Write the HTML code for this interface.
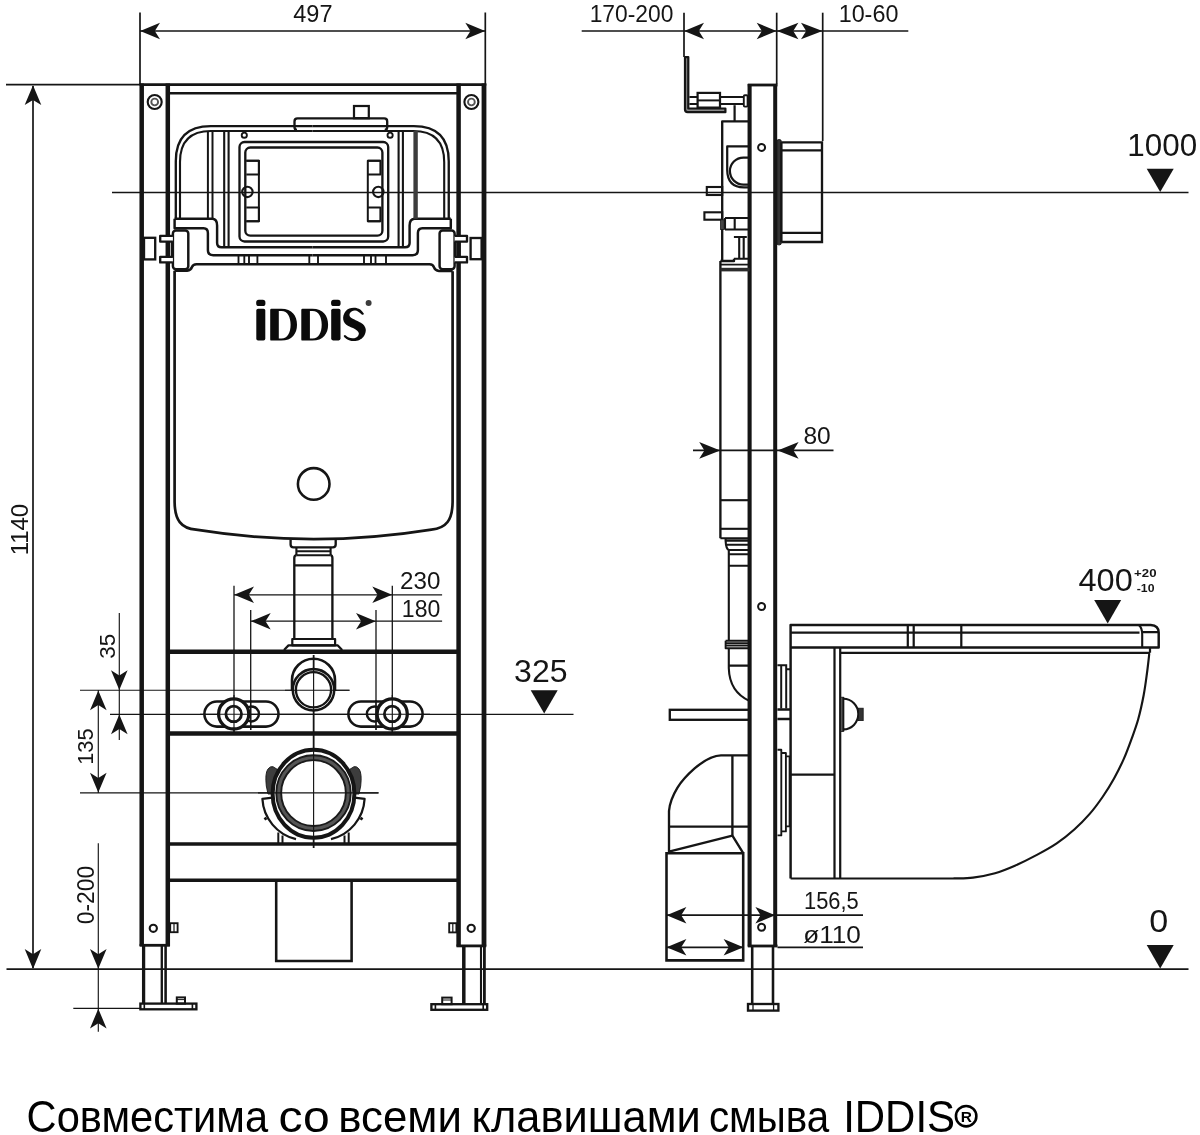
<!DOCTYPE html>
<html><head><meta charset="utf-8"><title>IDDIS</title>
<style>
html,body{margin:0;padding:0;background:#fff;}
svg{display:block;will-change:transform;}
text{font-family:"Liberation Sans",sans-serif;fill:#151515;}
</style></head>
<body>
<svg width="1200" height="1135" viewBox="0 0 1200 1135">
<rect x="0" y="0" width="1200" height="1135" fill="#ffffff"/>
<g>
<line x1="112.00" y1="192.50" x2="1188.50" y2="192.50" stroke="#151515" stroke-width="1.7" stroke-linecap="butt"/>
<line x1="110.00" y1="714.30" x2="573.50" y2="714.30" stroke="#151515" stroke-width="1.3" stroke-linecap="butt"/>
<line x1="6.50" y1="969.20" x2="1188.50" y2="969.20" stroke="#151515" stroke-width="1.7" stroke-linecap="butt"/>
<line x1="6.00" y1="84.60" x2="141.00" y2="84.60" stroke="#151515" stroke-width="1.7" stroke-linecap="butt"/>
<line x1="140.00" y1="12.50" x2="140.00" y2="85.00" stroke="#151515" stroke-width="1.7" stroke-linecap="butt"/>
<line x1="485.30" y1="12.50" x2="485.30" y2="85.00" stroke="#151515" stroke-width="1.7" stroke-linecap="butt"/>
<line x1="140.00" y1="31.00" x2="485.30" y2="31.00" stroke="#151515" stroke-width="1.7" stroke-linecap="butt"/>
<polygon points="140.20,31.00 160.00,39.30 154.80,31.00 160.00,22.70" fill="#151515"/>
<polygon points="485.10,31.00 465.30,22.70 470.50,31.00 465.30,39.30" fill="#151515"/>
<text x="293.30" y="22.30" font-size="23.6" text-anchor="start" font-weight="normal" textLength="39.24" lengthAdjust="spacingAndGlyphs">497</text>
<line x1="33.00" y1="86.00" x2="33.00" y2="968.00" stroke="#151515" stroke-width="1.7" stroke-linecap="butt"/>
<polygon points="33.00,85.30 24.70,105.10 33.00,99.90 41.30,105.10" fill="#151515"/>
<polygon points="33.00,968.90 41.30,949.10 33.00,954.30 24.70,949.10" fill="#151515"/>
<text x="27.70" y="555.34" font-size="24.2" text-anchor="start" font-weight="normal" textLength="51.53" lengthAdjust="spacingAndGlyphs" transform="rotate(-90 27.70 555.34)">1140</text>
<line x1="581.70" y1="31.00" x2="908.30" y2="31.00" stroke="#151515" stroke-width="1.7" stroke-linecap="butt"/>
<line x1="684.00" y1="12.70" x2="684.00" y2="57.00" stroke="#151515" stroke-width="1.7" stroke-linecap="butt"/>
<line x1="776.70" y1="12.70" x2="776.70" y2="84.00" stroke="#151515" stroke-width="1.7" stroke-linecap="butt"/>
<line x1="822.70" y1="12.70" x2="822.70" y2="141.00" stroke="#151515" stroke-width="1.7" stroke-linecap="butt"/>
<polygon points="684.20,31.00 704.00,39.30 698.80,31.00 704.00,22.70" fill="#151515"/>
<polygon points="776.50,31.00 756.70,22.70 761.90,31.00 756.70,39.30" fill="#151515"/>
<polygon points="776.90,31.00 798.40,39.30 793.20,31.00 798.40,22.70" fill="#151515"/>
<polygon points="822.50,31.00 801.00,22.70 806.20,31.00 801.00,39.30" fill="#151515"/>
<text x="589.67" y="22.30" font-size="24.2" text-anchor="start" font-weight="normal" textLength="83.71" lengthAdjust="spacingAndGlyphs">170-200</text>
<text x="838.65" y="22.30" font-size="24.2" text-anchor="start" font-weight="normal" textLength="59.74" lengthAdjust="spacingAndGlyphs">10-60</text>
<line x1="693.00" y1="450.40" x2="833.50" y2="450.40" stroke="#151515" stroke-width="1.7" stroke-linecap="butt"/>
<polygon points="720.20,450.40 699.20,442.10 704.40,450.40 699.20,458.70" fill="#151515"/>
<polygon points="777.60,450.40 798.60,458.70 793.40,450.40 798.60,442.10" fill="#151515"/>
<text x="803.42" y="444.10" font-size="24.2" text-anchor="start" font-weight="normal" textLength="27.33" lengthAdjust="spacingAndGlyphs">80</text>
<line x1="234.00" y1="585.70" x2="234.00" y2="733.00" stroke="#151515" stroke-width="1.3" stroke-linecap="butt"/>
<line x1="392.30" y1="585.70" x2="392.30" y2="733.00" stroke="#151515" stroke-width="1.3" stroke-linecap="butt"/>
<line x1="234.00" y1="594.80" x2="442.10" y2="594.80" stroke="#151515" stroke-width="1.3" stroke-linecap="butt"/>
<polygon points="234.20,594.80 254.00,603.10 248.80,594.80 254.00,586.50" fill="#151515"/>
<polygon points="392.10,594.80 372.30,586.50 377.50,594.80 372.30,603.10" fill="#151515"/>
<line x1="250.70" y1="610.00" x2="250.70" y2="730.00" stroke="#151515" stroke-width="1.3" stroke-linecap="butt"/>
<line x1="376.00" y1="610.00" x2="376.00" y2="730.00" stroke="#151515" stroke-width="1.3" stroke-linecap="butt"/>
<line x1="250.70" y1="621.20" x2="442.10" y2="621.20" stroke="#151515" stroke-width="1.3" stroke-linecap="butt"/>
<polygon points="250.90,621.20 270.70,629.50 265.50,621.20 270.70,612.90" fill="#151515"/>
<polygon points="375.80,621.20 356.00,612.90 361.20,621.20 356.00,629.50" fill="#151515"/>
<text x="400.00" y="588.70" font-size="23.6" text-anchor="start" font-weight="normal" textLength="40.33" lengthAdjust="spacingAndGlyphs">230</text>
<text x="401.86" y="616.50" font-size="23.6" text-anchor="start" font-weight="normal" textLength="38.49" lengthAdjust="spacingAndGlyphs">180</text>
<line x1="119.30" y1="613.00" x2="119.30" y2="740.00" stroke="#151515" stroke-width="1.15" stroke-linecap="butt"/>
<polygon points="119.30,690.00 127.60,670.20 119.30,675.40 111.00,670.20" fill="#151515"/>
<polygon points="119.30,714.40 111.00,734.20 119.30,729.00 127.60,734.20" fill="#151515"/>
<line x1="80.00" y1="690.20" x2="349.50" y2="690.20" stroke="#151515" stroke-width="1.15" stroke-linecap="butt"/>
<text x="114.80" y="658.81" font-size="22.6" text-anchor="start" font-weight="normal" textLength="24.9" lengthAdjust="spacingAndGlyphs" transform="rotate(-90 114.80 658.81)">35</text>
<line x1="98.30" y1="690.00" x2="98.30" y2="793.00" stroke="#151515" stroke-width="1.15" stroke-linecap="butt"/>
<polygon points="98.30,690.50 90.00,710.30 98.30,705.10 106.60,710.30" fill="#151515"/>
<polygon points="98.30,792.50 106.60,772.70 98.30,777.90 90.00,772.70" fill="#151515"/>
<line x1="80.00" y1="792.80" x2="378.50" y2="792.80" stroke="#151515" stroke-width="1.15" stroke-linecap="butt"/>
<text x="93.30" y="764.79" font-size="22.6" text-anchor="start" font-weight="normal" textLength="36.5" lengthAdjust="spacingAndGlyphs" transform="rotate(-90 93.30 764.79)">135</text>
<line x1="98.30" y1="843.30" x2="98.30" y2="1031.70" stroke="#151515" stroke-width="1.15" stroke-linecap="butt"/>
<polygon points="98.30,968.80 106.60,949.00 98.30,954.20 90.00,949.00" fill="#151515"/>
<polygon points="98.30,1008.70 90.00,1028.50 98.30,1023.30 106.60,1028.50" fill="#151515"/>
<line x1="73.30" y1="1008.40" x2="141.00" y2="1008.40" stroke="#151515" stroke-width="1.15" stroke-linecap="butt"/>
<text x="93.90" y="924.29" font-size="24.5" text-anchor="start" font-weight="normal" textLength="58.63" lengthAdjust="spacingAndGlyphs" transform="rotate(-90 93.90 924.29)">0-200</text>
<line x1="666.40" y1="915.20" x2="863.00" y2="915.20" stroke="#151515" stroke-width="1.7" stroke-linecap="butt"/>
<polygon points="666.60,915.20 686.40,923.50 681.20,915.20 686.40,906.90" fill="#151515"/>
<polygon points="775.20,915.20 755.40,906.90 760.60,915.20 755.40,923.50" fill="#151515"/>
<line x1="666.40" y1="947.30" x2="743.60" y2="947.30" stroke="#151515" stroke-width="1.7" stroke-linecap="butt"/>
<line x1="777.50" y1="947.30" x2="863.00" y2="947.30" stroke="#151515" stroke-width="1.7" stroke-linecap="butt"/>
<polygon points="666.60,947.30 686.40,955.60 681.20,947.30 686.40,939.00" fill="#151515"/>
<polygon points="743.40,947.30 723.60,939.00 728.80,947.30 723.60,955.60" fill="#151515"/>
<text x="804.01" y="909.20" font-size="23.8" text-anchor="start" font-weight="normal" textLength="54.71" lengthAdjust="spacingAndGlyphs">156,5</text>
<text x="803.20" y="942.70" font-size="23.0" text-anchor="start" font-weight="normal" textLength="57.71" lengthAdjust="spacingAndGlyphs">&#248;110</text>
<text x="1127.33" y="155.70" font-size="31.0" text-anchor="start" font-weight="normal" textLength="69.87" lengthAdjust="spacingAndGlyphs">1000</text>
<polygon points="1146.70,168.70 1173.70,168.70 1160.20,192.00" fill="#151515"/>
<text x="514.07" y="681.90" font-size="31.3" text-anchor="start" font-weight="normal" textLength="53.44" lengthAdjust="spacingAndGlyphs">325</text>
<polygon points="530.70,690.30 557.70,690.30 544.20,713.60" fill="#151515"/>
<text x="1149.15" y="931.60" font-size="31.0" text-anchor="start" font-weight="normal" textLength="18.98" lengthAdjust="spacingAndGlyphs">0</text>
<polygon points="1146.70,945.10 1173.70,945.10 1160.20,968.40" fill="#151515"/>
<text x="1078.51" y="590.60" font-size="31.3" text-anchor="start" font-weight="normal" textLength="54.28" lengthAdjust="spacingAndGlyphs">400</text>
<polygon points="1094.20,600.10 1121.20,600.10 1107.70,623.40" fill="#151515"/>
<text x="1134.10" y="576.80" font-size="11.4" text-anchor="start" font-weight="bold" textLength="22.41" lengthAdjust="spacingAndGlyphs">+20</text>
<text x="1136.78" y="592.00" font-size="11.4" text-anchor="start" font-weight="bold" textLength="17.68" lengthAdjust="spacingAndGlyphs">-10</text>
<line x1="313.60" y1="655.00" x2="313.60" y2="848.00" stroke="#151515" stroke-width="1.7" stroke-linecap="butt"/>
<line x1="141.70" y1="83.50" x2="141.70" y2="946.00" stroke="#151515" stroke-width="4.5" stroke-linecap="butt"/>
<line x1="167.80" y1="83.50" x2="167.80" y2="946.00" stroke="#151515" stroke-width="4.5" stroke-linecap="butt"/>
<line x1="458.60" y1="83.50" x2="458.60" y2="946.50" stroke="#151515" stroke-width="4.5" stroke-linecap="butt"/>
<line x1="484.00" y1="83.50" x2="484.00" y2="946.50" stroke="#151515" stroke-width="4.8" stroke-linecap="butt"/>
<line x1="139.60" y1="945.30" x2="169.90" y2="945.30" stroke="#151515" stroke-width="2.81" stroke-linecap="butt"/>
<line x1="456.50" y1="945.90" x2="486.20" y2="945.90" stroke="#151515" stroke-width="2.81" stroke-linecap="butt"/>
<line x1="139.60" y1="84.60" x2="486.20" y2="84.60" stroke="#151515" stroke-width="2.81" stroke-linecap="butt"/>
<line x1="167.80" y1="93.30" x2="458.60" y2="93.30" stroke="#151515" stroke-width="2.57" stroke-linecap="butt"/>
<circle cx="154.70" cy="102.00" r="7.00" fill="none" stroke="#151515" stroke-width="2.11"/>
<circle cx="154.70" cy="102.00" r="3.40" fill="none" stroke="#555" stroke-width="1.87"/>
<circle cx="471.40" cy="102.00" r="7.00" fill="none" stroke="#151515" stroke-width="2.11"/>
<circle cx="471.40" cy="102.00" r="3.40" fill="none" stroke="#555" stroke-width="1.87"/>
<rect x="144.00" y="237.80" width="11.20" height="21.60" rx="0" fill="none" stroke="#151515" stroke-width="2.34"/>
<rect x="470.60" y="238.00" width="11.00" height="21.20" rx="0" fill="none" stroke="#151515" stroke-width="2.34"/>
<line x1="167.80" y1="651.80" x2="458.60" y2="651.80" stroke="#151515" stroke-width="4.5" stroke-linecap="butt"/>
<line x1="167.80" y1="733.60" x2="458.60" y2="733.60" stroke="#151515" stroke-width="4.5" stroke-linecap="butt"/>
<line x1="167.80" y1="844.00" x2="458.60" y2="844.00" stroke="#151515" stroke-width="3.4" stroke-linecap="butt"/>
<line x1="167.80" y1="880.20" x2="458.60" y2="880.20" stroke="#151515" stroke-width="3.4" stroke-linecap="butt"/>
<path d="M276.2,880 V961 H351.6 V880" fill="none" stroke="#151515" stroke-width="2.57" stroke-linejoin="miter" stroke-linecap="butt"/>
<circle cx="153.30" cy="928.30" r="3.60" fill="none" stroke="#151515" stroke-width="2.11"/>
<circle cx="471.20" cy="928.30" r="3.60" fill="none" stroke="#151515" stroke-width="2.11"/>
<rect x="170.20" y="923.20" width="7.40" height="9.00" rx="0" fill="none" stroke="#151515" stroke-width="1.87"/>
<line x1="174.00" y1="923.20" x2="174.00" y2="932.20" stroke="#151515" stroke-width="1.2" stroke-linecap="butt"/>
<rect x="449.20" y="923.20" width="7.20" height="9.20" rx="0" fill="none" stroke="#151515" stroke-width="1.87"/>
<line x1="452.80" y1="923.20" x2="452.80" y2="932.40" stroke="#151515" stroke-width="1.2" stroke-linecap="butt"/>
<line x1="143.60" y1="946.00" x2="143.60" y2="1003.50" stroke="#151515" stroke-width="3.28" stroke-linecap="butt"/>
<line x1="161.80" y1="946.00" x2="161.80" y2="1003.50" stroke="#151515" stroke-width="2.34" stroke-linecap="butt"/>
<line x1="165.60" y1="946.00" x2="165.60" y2="1003.50" stroke="#151515" stroke-width="2.57" stroke-linecap="butt"/>
<line x1="463.80" y1="946.00" x2="463.80" y2="1004.00" stroke="#151515" stroke-width="3.51" stroke-linecap="butt"/>
<line x1="481.00" y1="946.00" x2="481.00" y2="1004.00" stroke="#151515" stroke-width="2.11" stroke-linecap="butt"/>
<line x1="484.40" y1="946.00" x2="484.40" y2="1004.00" stroke="#151515" stroke-width="2.81" stroke-linecap="butt"/>
<rect x="140.40" y="1003.60" width="56.00" height="5.70" rx="0" fill="none" stroke="#151515" stroke-width="2.34"/>
<line x1="144.30" y1="1003.60" x2="144.30" y2="1009.30" stroke="#151515" stroke-width="1.64" stroke-linecap="butt"/>
<line x1="192.40" y1="1003.60" x2="192.40" y2="1009.30" stroke="#151515" stroke-width="1.64" stroke-linecap="butt"/>
<rect x="176.80" y="997.40" width="8.20" height="6.20" rx="0" fill="none" stroke="#151515" stroke-width="1.99"/>
<line x1="176.80" y1="999.60" x2="185.00" y2="999.60" stroke="#151515" stroke-width="1.0" stroke-linecap="butt"/>
<rect x="431.40" y="1004.20" width="55.80" height="5.60" rx="0" fill="none" stroke="#151515" stroke-width="2.34"/>
<line x1="435.40" y1="1004.20" x2="435.40" y2="1009.80" stroke="#151515" stroke-width="1.64" stroke-linecap="butt"/>
<line x1="483.20" y1="1004.20" x2="483.20" y2="1009.80" stroke="#151515" stroke-width="1.64" stroke-linecap="butt"/>
<rect x="442.20" y="997.60" width="9.40" height="6.60" rx="0" fill="none" stroke="#151515" stroke-width="1.99"/>
<line x1="442.20" y1="1000.00" x2="451.60" y2="1000.00" stroke="#151515" stroke-width="1.0" stroke-linecap="butt"/>
<path d="M174.6,270.8 V502 C174.8,520 181,528.3 196,529.6 Q313.7,548.6 431.4,529.6 C446.4,528.3 452.4,520 452.6,502 V271.2" fill="none" stroke="#151515" stroke-width="2.69" stroke-linejoin="round" stroke-linecap="butt"/>
<circle cx="313.70" cy="483.90" r="15.80" fill="none" stroke="#151515" stroke-width="2.57"/>
<path d="M174.6,270.8 H187 Q191,270 192,267 Q193,264.2 196.5,264.2 H429.5 Q433,264.2 434,267.4 Q435,270.6 439,270.9 H452.6" fill="none" stroke="#151515" stroke-width="2.46" stroke-linejoin="round" stroke-linecap="butt"/>
<path d="M290.6,539.4 V544.5 Q290.6,547.3 293.5,547.3 H332.8 Q335.7,547.3 335.7,544.5 V539.4" fill="none" stroke="#151515" stroke-width="2.34" stroke-linejoin="round" stroke-linecap="butt"/>
<path d="M296.4,547.3 V555.2 M330.6,547.3 V555.2 M296.4,551.2 H330.6 M296.4,555.2 H330.6" fill="none" stroke="#151515" stroke-width="2.11" stroke-linejoin="round" stroke-linecap="butt"/>
<path d="M296.4,555.2 Q294.3,555.6 294.3,558 V639 M330.6,555.2 Q332.4,555.6 332.4,558 V639 M294.3,565.3 H332.4" fill="none" stroke="#151515" stroke-width="2.34" stroke-linejoin="round" stroke-linecap="butt"/>
<path d="M292.3,639 H335.1 V645.4 H292.3 Z" fill="none" stroke="#151515" stroke-width="2.22" stroke-linejoin="round" stroke-linecap="butt"/>
<path d="M284,650 L288.5,645.4 H337.8 L342.2,650" fill="none" stroke="#151515" stroke-width="2.22" stroke-linejoin="round" stroke-linecap="butt"/>
<path d="M175.80,218.8 V161.20 Q175.80,126.2 210.80,126.2 H312.4" fill="none" stroke="#151515" stroke-width="2.34" stroke-linejoin="round" stroke-linecap="butt"/>
<path d="M180.00,218.8 V162.00 Q180.00,131 211.00,131 H312.4" fill="none" stroke="#151515" stroke-width="2.11" stroke-linejoin="round" stroke-linecap="butt"/>
<path d="M174.60,218.8 H212.60 Q217.10,219.4 217.10,225.4 V243 Q217.10,247.3 221.60,247.3 H312.4" fill="none" stroke="#151515" stroke-width="2.46" stroke-linejoin="round" stroke-linecap="butt"/>
<path d="M174.60,218.8 V228.3 H203.60 Q207.90,228.5 207.90,233 V250 Q207.90,255.2 213.20,255.2 H312.4" fill="none" stroke="#151515" stroke-width="2.46" stroke-linejoin="round" stroke-linecap="butt"/>
<rect x="172.90" y="230.40" width="15.40" height="38.80" rx="3" fill="none" stroke="#151515" stroke-width="2.46"/>
<path d="M172.90,235.9 H160.20 V241.6 H172.90" fill="#fff" stroke="#151515" stroke-width="2.34" stroke-linejoin="round" stroke-linecap="butt"/>
<path d="M172.90,256.8 H160.20 V262.4 H172.90" fill="#fff" stroke="#151515" stroke-width="2.34" stroke-linejoin="round" stroke-linecap="butt"/>
<line x1="168.30" y1="241.60" x2="168.30" y2="256.80" stroke="#151515" stroke-width="1.99" stroke-linecap="butt"/>
<line x1="171.70" y1="241.60" x2="171.70" y2="256.80" stroke="#151515" stroke-width="1.99" stroke-linecap="butt"/>
<path d="M448.75,218.8 V161.20 Q448.75,126.2 413.75,126.2 H312.4" fill="none" stroke="#151515" stroke-width="2.34" stroke-linejoin="round" stroke-linecap="butt"/>
<path d="M444.20,218.8 V162.00 Q444.20,131 413.20,131 H312.4" fill="none" stroke="#151515" stroke-width="2.11" stroke-linejoin="round" stroke-linecap="butt"/>
<path d="M450.80,218.8 H414.40 Q409.60,219.4 409.60,225.4 V243 Q409.60,247.3 405.00,247.3 H312.4" fill="none" stroke="#151515" stroke-width="2.46" stroke-linejoin="round" stroke-linecap="butt"/>
<path d="M450.80,218.8 V228.3 H422.40 Q417.90,228.5 417.90,233 V250 Q417.90,255.2 412.60,255.2 H312.4" fill="none" stroke="#151515" stroke-width="2.46" stroke-linejoin="round" stroke-linecap="butt"/>
<rect x="439.60" y="230.40" width="15.00" height="38.80" rx="3" fill="none" stroke="#151515" stroke-width="2.46"/>
<path d="M454.60,235.9 H467.00 V241.6 H454.60" fill="#fff" stroke="#151515" stroke-width="2.34" stroke-linejoin="round" stroke-linecap="butt"/>
<path d="M454.60,256.8 H467.00 V262.4 H454.60" fill="#fff" stroke="#151515" stroke-width="2.34" stroke-linejoin="round" stroke-linecap="butt"/>
<line x1="455.60" y1="241.60" x2="455.60" y2="256.80" stroke="#151515" stroke-width="1.99" stroke-linecap="butt"/>
<line x1="459.60" y1="241.60" x2="459.60" y2="256.80" stroke="#151515" stroke-width="1.99" stroke-linecap="butt"/>
<line x1="207.90" y1="131.00" x2="207.90" y2="218.80" stroke="#151515" stroke-width="1.99" stroke-linecap="butt"/>
<line x1="212.50" y1="131.00" x2="212.50" y2="218.80" stroke="#151515" stroke-width="1.99" stroke-linecap="butt"/>
<line x1="224.20" y1="131.00" x2="224.20" y2="247.30" stroke="#151515" stroke-width="2.11" stroke-linecap="butt"/>
<line x1="228.60" y1="131.00" x2="228.60" y2="247.30" stroke="#151515" stroke-width="2.11" stroke-linecap="butt"/>
<line x1="398.60" y1="131.00" x2="398.60" y2="247.30" stroke="#151515" stroke-width="2.11" stroke-linecap="butt"/>
<line x1="402.90" y1="131.00" x2="402.90" y2="247.30" stroke="#151515" stroke-width="2.11" stroke-linecap="butt"/>
<line x1="415.60" y1="131.00" x2="415.60" y2="218.80" stroke="#3c3c3c" stroke-width="4.4" stroke-linecap="butt"/>
<path d="M297,130 Q294.5,130 294.5,127 V121.4 Q294.5,118.4 297.5,118.4 H384.2 Q387.2,118.4 387.2,121.4 V127 Q387.2,130 384.7,130" fill="none" stroke="#151515" stroke-width="2.34" stroke-linejoin="round" stroke-linecap="butt"/>
<rect x="354.00" y="106.00" width="14.80" height="12.20" rx="0" fill="none" stroke="#151515" stroke-width="2.22"/>
<circle cx="244.30" cy="135.20" r="2.60" fill="none" stroke="#151515" stroke-width="1.87"/>
<circle cx="390.10" cy="135.20" r="2.60" fill="none" stroke="#151515" stroke-width="1.87"/>
<rect x="239.50" y="142.00" width="148.70" height="99.50" rx="5" fill="none" stroke="#151515" stroke-width="2.34"/>
<rect x="245.30" y="147.50" width="137.10" height="88.20" rx="5" fill="none" stroke="#151515" stroke-width="2.34"/>
<path d="M246.3,160.7 H258.9 V174.6 H246.3 M246.3,207.6 H258.9 V221.2 H246.3" fill="none" stroke="#151515" stroke-width="1.99" stroke-linejoin="round" stroke-linecap="butt"/>
<path d="M246.3,160.7 H258.9 V221.2 H246.3" fill="none" stroke="#151515" stroke-width="1.99" stroke-linejoin="round" stroke-linecap="butt"/>
<path d="M367.8,160.7 H380.4 V174.6 H367.8 M367.8,207.6 H380.4 V221.2 H367.8" fill="none" stroke="#151515" stroke-width="1.99" stroke-linejoin="round" stroke-linecap="butt"/>
<path d="M380.4,160.7 H367.8 V221.2 H380.4" fill="none" stroke="#151515" stroke-width="1.99" stroke-linejoin="round" stroke-linecap="butt"/>
<circle cx="247.40" cy="191.90" r="5.20" fill="none" stroke="#151515" stroke-width="2.11"/>
<circle cx="378.30" cy="191.90" r="5.20" fill="none" stroke="#151515" stroke-width="2.11"/>
<line x1="238.50" y1="255.20" x2="238.50" y2="264.20" stroke="#151515" stroke-width="1.87" stroke-linecap="butt"/>
<line x1="244.30" y1="255.20" x2="244.30" y2="264.20" stroke="#151515" stroke-width="1.87" stroke-linecap="butt"/>
<line x1="249.00" y1="255.20" x2="249.00" y2="264.20" stroke="#151515" stroke-width="1.87" stroke-linecap="butt"/>
<line x1="257.40" y1="255.20" x2="257.40" y2="264.20" stroke="#151515" stroke-width="1.87" stroke-linecap="butt"/>
<line x1="309.30" y1="255.20" x2="309.30" y2="264.20" stroke="#151515" stroke-width="1.87" stroke-linecap="butt"/>
<line x1="318.00" y1="255.20" x2="318.00" y2="264.20" stroke="#151515" stroke-width="1.87" stroke-linecap="butt"/>
<line x1="364.00" y1="255.20" x2="364.00" y2="264.20" stroke="#151515" stroke-width="1.87" stroke-linecap="butt"/>
<line x1="371.00" y1="255.20" x2="371.00" y2="264.20" stroke="#151515" stroke-width="1.87" stroke-linecap="butt"/>
<line x1="375.50" y1="255.20" x2="375.50" y2="264.20" stroke="#151515" stroke-width="1.87" stroke-linecap="butt"/>
<line x1="386.00" y1="255.20" x2="386.00" y2="264.20" stroke="#151515" stroke-width="1.87" stroke-linecap="butt"/>
<path d="M292.0,691 V680.2 A21.5,21.5 0 0 1 335.0,680.2 V691" fill="none" stroke="#151515" stroke-width="2.57" stroke-linejoin="round" stroke-linecap="butt"/>
<circle cx="313.50" cy="689.80" r="20.70" fill="#fff" stroke="#151515" stroke-width="2.57"/>
<circle cx="313.50" cy="689.80" r="17.60" fill="none" stroke="#151515" stroke-width="2.34"/>
<path d="M216.95,701.50 H265.95 A12.55,12.55 0 0 1 265.95,726.60 H216.95 A12.55,12.55 0 0 1 216.95,701.50 Z" fill="none" stroke="#151515" stroke-width="2.57" stroke-linejoin="round" stroke-linecap="butt"/>
<path d="M360.95,701.50 H410.05 A12.55,12.55 0 0 1 410.05,726.60 H360.95 A12.55,12.55 0 0 1 360.95,701.50 Z" fill="none" stroke="#151515" stroke-width="2.57" stroke-linejoin="round" stroke-linecap="butt"/>
<circle cx="251.40" cy="713.90" r="7.50" fill="none" stroke="#151515" stroke-width="2.46"/>
<circle cx="374.40" cy="713.90" r="7.50" fill="none" stroke="#151515" stroke-width="2.46"/>
<circle cx="233.70" cy="713.90" r="15.10" fill="#fff" stroke="#151515" stroke-width="3.28"/>
<circle cx="233.70" cy="713.90" r="7.80" fill="none" stroke="#151515" stroke-width="2.81"/>
<circle cx="392.20" cy="713.90" r="15.10" fill="#fff" stroke="#151515" stroke-width="3.28"/>
<circle cx="392.20" cy="713.90" r="7.80" fill="none" stroke="#151515" stroke-width="2.81"/>
<path d="M268.00,794 L266.30,786 Q264.90,773.5 267.80,769.2 Q270.30,765.9 273.00,766.7 L277.50,769.5 L282.00,794 Z" fill="#3d3d3d" stroke="#151515" stroke-width="0.9"/>
<path d="M272.50,797.6 L262.40,798.9 A43.8,43.8 0 0 0 296.00,839.2" fill="none" stroke="#151515" stroke-width="2.22" stroke-linejoin="round" stroke-linecap="butt"/>
<path d="M266.60,818.0 l-2.20,1.4" fill="none" stroke="#151515" stroke-width="2.81" stroke-linejoin="round" stroke-linecap="butt"/>
<line x1="278.30" y1="832.50" x2="278.30" y2="843.00" stroke="#151515" stroke-width="1.99" stroke-linecap="butt"/>
<line x1="282.50" y1="835.50" x2="282.50" y2="843.00" stroke="#151515" stroke-width="1.99" stroke-linecap="butt"/>
<path d="M359.00,794 L360.70,786 Q362.10,773.5 359.20,769.2 Q356.70,765.9 354.00,766.7 L349.50,769.5 L345.00,794 Z" fill="#3d3d3d" stroke="#151515" stroke-width="0.9"/>
<path d="M354.50,797.6 L364.60,798.9 A43.8,43.8 0 0 1 331.00,839.2" fill="none" stroke="#151515" stroke-width="2.22" stroke-linejoin="round" stroke-linecap="butt"/>
<path d="M360.40,818.0 l2.20,1.4" fill="none" stroke="#151515" stroke-width="2.81" stroke-linejoin="round" stroke-linecap="butt"/>
<line x1="348.70" y1="832.50" x2="348.70" y2="843.00" stroke="#151515" stroke-width="1.99" stroke-linecap="butt"/>
<line x1="344.50" y1="835.50" x2="344.50" y2="843.00" stroke="#151515" stroke-width="1.99" stroke-linecap="butt"/>
<ellipse cx="313.5" cy="793.8" rx="40.9" ry="44.0" fill="#fff" stroke="#151515" stroke-width="4.0"/>
<ellipse cx="313.5" cy="793.1" rx="34.8" ry="35.4" fill="none" stroke="#1a1a1a" stroke-width="6.8"/>
<ellipse cx="313.5" cy="793.1" rx="34.8" ry="35.4" fill="none" stroke="#555" stroke-width="3.0"/>
<line x1="313.60" y1="655.00" x2="313.60" y2="848.00" stroke="#151515" stroke-width="1.15" stroke-linecap="butt"/>
<line x1="258.00" y1="792.80" x2="378.50" y2="792.80" stroke="#151515" stroke-width="1.15" stroke-linecap="butt"/>
<line x1="285.00" y1="690.20" x2="349.50" y2="690.20" stroke="#151515" stroke-width="1.15" stroke-linecap="butt"/>
<line x1="200.00" y1="714.20" x2="430.00" y2="714.20" stroke="#151515" stroke-width="1.15" stroke-linecap="butt"/>
<line x1="234.00" y1="695.00" x2="234.00" y2="733.00" stroke="#151515" stroke-width="1.15" stroke-linecap="butt"/>
<line x1="392.30" y1="695.00" x2="392.30" y2="733.00" stroke="#151515" stroke-width="1.15" stroke-linecap="butt"/>
<line x1="250.70" y1="700.00" x2="250.70" y2="730.00" stroke="#151515" stroke-width="1.15" stroke-linecap="butt"/>
<line x1="376.00" y1="700.00" x2="376.00" y2="730.00" stroke="#151515" stroke-width="1.15" stroke-linecap="butt"/>
<line x1="749.60" y1="84.00" x2="749.60" y2="946.60" stroke="#151515" stroke-width="4.1" stroke-linecap="butt"/>
<line x1="775.20" y1="84.00" x2="775.20" y2="946.60" stroke="#151515" stroke-width="4.0" stroke-linecap="butt"/>
<line x1="747.80" y1="85.00" x2="777.50" y2="85.00" stroke="#151515" stroke-width="2.81" stroke-linecap="butt"/>
<line x1="747.80" y1="946.00" x2="777.50" y2="946.00" stroke="#151515" stroke-width="2.81" stroke-linecap="butt"/>
<circle cx="761.60" cy="147.40" r="3.50" fill="none" stroke="#151515" stroke-width="1.99"/>
<circle cx="761.60" cy="606.50" r="3.50" fill="none" stroke="#151515" stroke-width="1.99"/>
<circle cx="761.60" cy="927.20" r="3.50" fill="none" stroke="#151515" stroke-width="1.99"/>
<line x1="752.20" y1="946.00" x2="752.20" y2="1004.00" stroke="#151515" stroke-width="2.57" stroke-linecap="butt"/>
<line x1="773.00" y1="946.00" x2="773.00" y2="1004.00" stroke="#151515" stroke-width="2.57" stroke-linecap="butt"/>
<rect x="748.00" y="1004.00" width="30.40" height="6.60" rx="0" fill="none" stroke="#151515" stroke-width="2.34"/>
<line x1="753.00" y1="1004.00" x2="753.00" y2="1010.60" stroke="#151515" stroke-width="1.3" stroke-linecap="butt"/>
<line x1="773.60" y1="1004.00" x2="773.60" y2="1010.60" stroke="#151515" stroke-width="1.3" stroke-linecap="butt"/>
<path d="M685.0,57.2 H688.3 V108.5 H725.4 V112.2 H687.6 Q685.0,112.2 685.0,109.6 Z" fill="#8a8a8a" stroke="#151515" stroke-width="2.22" stroke-linejoin="round" stroke-linecap="butt"/>
<path d="M689.4,97.0 H697.6 M720,97.0 H743.6 M689.4,104.0 H697.6 M720,104.0 H743.6" fill="none" stroke="#151515" stroke-width="2.11" stroke-linejoin="round" stroke-linecap="butt"/>
<rect x="697.60" y="92.90" width="22.40" height="14.70" rx="0" fill="#fff" stroke="#151515" stroke-width="2.22"/>
<line x1="697.60" y1="100.40" x2="720.00" y2="100.40" stroke="#151515" stroke-width="1.99" stroke-linecap="butt"/>
<rect x="743.80" y="95.20" width="3.80" height="11.40" rx="1" fill="none" stroke="#151515" stroke-width="1.87"/>
<path d="M734.6,105.2 V121.3" fill="none" stroke="#151515" stroke-width="2.22" stroke-linejoin="round" stroke-linecap="butt"/>
<path d="M749.6,121.3 H722.2 V261" fill="none" stroke="#151515" stroke-width="2.34" stroke-linejoin="round" stroke-linecap="butt"/>
<path d="M749.6,146.4 H727.2 V170 Q727.4,187.4 744,187.4 H749.6" fill="none" stroke="#151515" stroke-width="2.22" stroke-linejoin="round" stroke-linecap="butt"/>
<path d="M749.6,157.6 H743.4 A13.5,13.5 0 0 0 743.4,184.6 H749.6" fill="none" stroke="#151515" stroke-width="2.22" stroke-linejoin="round" stroke-linecap="butt"/>
<rect x="706.80" y="187.00" width="15.40" height="8.00" rx="0" fill="none" stroke="#151515" stroke-width="2.11"/>
<rect x="704.40" y="212.30" width="17.80" height="7.40" rx="0" fill="none" stroke="#151515" stroke-width="2.11"/>
<path d="M725,218 H749.6 M725,229.5 H749.6 M725,218 V229.5 M734.7,218 V229.5" fill="none" stroke="#151515" stroke-width="2.11" stroke-linejoin="round" stroke-linecap="butt"/>
<rect x="720.60" y="219.80" width="3.60" height="9.70" rx="0" fill="#444" stroke="#151515" stroke-width="0.8"/>
<path d="M733.9,237 H746.8 M739.2,237 V258.7 M743.7,237 V258.7 M733.9,258.7 H749.6" fill="none" stroke="#151515" stroke-width="2.11" stroke-linejoin="round" stroke-linecap="butt"/>
<path d="M722.2,261 H734 V258.7 M720.4,261 H722.2 M720.4,261 V538.2" fill="none" stroke="#151515" stroke-width="2.34" stroke-linejoin="round" stroke-linecap="butt"/>
<line x1="720.40" y1="264.60" x2="749.60" y2="264.60" stroke="#151515" stroke-width="1.75" stroke-linecap="butt"/>
<line x1="720.40" y1="269.60" x2="749.60" y2="269.60" stroke="#2c2c2c" stroke-width="3.6" stroke-linecap="butt"/>
<line x1="720.40" y1="500.20" x2="749.60" y2="500.20" stroke="#151515" stroke-width="2.11" stroke-linecap="butt"/>
<line x1="720.40" y1="528.80" x2="749.60" y2="528.80" stroke="#151515" stroke-width="2.11" stroke-linecap="butt"/>
<path d="M720.4,538.2 H749.6 M725.6,538.2 V541 M725.6,540.6 H749.6 M725.6,540.6 Q726,549 728.8,550 M727,544.8 H749.6 M728.8,550 H749.6 M728.8,554.2 H749.6 M728.8,550 V640.8 M728.8,565.8 H749.6" fill="none" stroke="#151515" stroke-width="2.11" stroke-linejoin="round" stroke-linecap="butt"/>
<path d="M725.6,640.8 H749.6 M725.6,640.8 V648.2 H749.6 M725.6,643.3 H749.6 M725.6,645.6 H749.6" fill="none" stroke="#151515" stroke-width="1.87" stroke-linejoin="round" stroke-linecap="butt"/>
<path d="M728.8,648.2 V668.3 M728.8,665.6 H749.6 M728.8,668.3 Q729.5,692 749.6,701" fill="none" stroke="#151515" stroke-width="2.11" stroke-linejoin="round" stroke-linecap="butt"/>
<rect x="669.80" y="709.80" width="79.80" height="10.00" rx="0" fill="none" stroke="#151515" stroke-width="2.34"/>
<path d="M749.6,755.4 H721 C712,755.6 704,760.5 694.6,768.4 C686.5,775.5 680.6,782.6 677.5,787.6 C673,795 669.6,803 669.0,811 V851.6 L732.4,835.6 L743.2,853.2" fill="none" stroke="#151515" stroke-width="2.34" stroke-linejoin="round" stroke-linecap="butt"/>
<path d="M732.4,756 V835.6 M669.0,826.6 H749.6" fill="none" stroke="#151515" stroke-width="2.34" stroke-linejoin="round" stroke-linecap="butt"/>
<path d="M666.5,853.2 H743.2 V960.4 H666.5 Z" fill="none" stroke="#151515" stroke-width="2.57" stroke-linejoin="miter" stroke-linecap="butt"/>
<rect x="776.90" y="139.60" width="4.30" height="105.20" rx="1.6" fill="#333" stroke="#151515" stroke-width="1.0"/>
<path d="M781.3,142.3 H822 V242 H781.3 M781.3,150.4 H822 M781.3,232.9 H822 M781.4,142.3 V242" fill="none" stroke="#151515" stroke-width="2.34" stroke-linejoin="miter" stroke-linecap="butt"/>
<path d="M777.4,665.2 H786.2 V669.3 H790.4 M781.2,665.2 V708.6 M786.2,669.3 V708.6" fill="none" stroke="#151515" stroke-width="1.99" stroke-linejoin="miter" stroke-linecap="butt"/>
<path d="M777.4,709.4 H790.6 M777.4,719.0 H790.6" fill="none" stroke="#151515" stroke-width="2.46" stroke-linejoin="round" stroke-linecap="butt"/>
<path d="M777.5,749.8 H781.3 V835.4 H777.5 M781.3,753 H785.9 V831.4 H781.3 M785.9,756.4 H789.6 V826.4 H785.9" fill="none" stroke="#151515" stroke-width="1.87" stroke-linejoin="round" stroke-linecap="butt"/>
<path d="M790.6,878.5 V624.9 H1150.7 Q1158.7,625.4 1158.7,632.5 V647.4 H790.6" fill="none" stroke="#151515" stroke-width="2.46" stroke-linejoin="round" stroke-linecap="butt"/>
<path d="M790.6,632.6 H1139.5 M1142.4,632.2 H1158.7" fill="none" stroke="#151515" stroke-width="2.22" stroke-linejoin="round" stroke-linecap="butt"/>
<path d="M1138.7,624.9 Q1142.2,627.5 1142.2,634.7 V647.4" fill="none" stroke="#151515" stroke-width="2.11" stroke-linejoin="round" stroke-linecap="butt"/>
<path d="M840.2,652.8 H1150 M1150,647.4 V652.8" fill="none" stroke="#151515" stroke-width="2.22" stroke-linejoin="round" stroke-linecap="butt"/>
<path d="M907.8,624.9 V647.4 M913.7,624.9 V647.4 M961.3,624.9 V647.4" fill="none" stroke="#151515" stroke-width="2.22" stroke-linejoin="round" stroke-linecap="butt"/>
<path d="M834.5,647.4 V878.5 M840.2,647.4 V878.5" fill="none" stroke="#151515" stroke-width="2.22" stroke-linejoin="round" stroke-linecap="butt"/>
<line x1="790.60" y1="774.70" x2="834.30" y2="774.70" stroke="#151515" stroke-width="2.22" stroke-linecap="butt"/>
<path d="M790.60,878.50 C815.50,878.50 912.60,878.52 940.00,878.50 C967.40,878.48 949.50,878.55 955.00,878.40 C960.50,878.25 966.33,878.47 973.00,877.60 C979.67,876.73 988.02,875.18 995.00,873.20 C1001.98,871.22 1007.92,868.75 1014.90,865.70 C1021.88,862.65 1029.93,858.62 1036.90,854.90 C1043.87,851.18 1050.47,847.63 1056.70,843.40 C1062.93,839.17 1068.80,834.42 1074.30,829.50 C1079.80,824.58 1084.93,819.40 1089.70,813.90 C1094.47,808.40 1098.87,802.37 1102.90,796.50 C1106.93,790.63 1110.42,784.97 1113.90,778.70 C1117.38,772.43 1120.87,765.50 1123.80,758.90 C1126.73,752.30 1129.10,745.70 1131.50,739.10 C1133.90,732.50 1136.17,726.65 1138.20,719.30 C1140.23,711.95 1142.23,702.72 1143.70,695.00 C1145.17,687.28 1146.07,679.93 1147.00,673.00 C1147.93,666.07 1148.92,656.67 1149.30,653.40" fill="none" stroke="#151515" stroke-width="2.16" stroke-linejoin="round" stroke-linecap="butt"/>
<rect x="840.60" y="697.20" width="2.80" height="34.20" rx="0" fill="#555" stroke="#151515" stroke-width="0.8"/>
<path d="M843.4,698.8 A14.9,15.3 0 0 1 843.4,729.4" fill="none" stroke="#151515" stroke-width="2.11" stroke-linejoin="round" stroke-linecap="butt"/>
<path d="M843.4,697.2 V731.4" fill="none" stroke="#151515" stroke-width="1.87" stroke-linejoin="round" stroke-linecap="butt"/>
<rect x="858.60" y="708.20" width="4.60" height="12.40" rx="0" fill="#333" stroke="#151515" stroke-width="0.8"/>
<g fill="#0b0b0b" stroke="none">
<rect x="256.3" y="308.8" width="9.0" height="31.8" rx="1.8"/>
<rect x="256.2" y="299.8" width="9.2" height="6.3" rx="2.6"/>
<rect x="331.2" y="308.8" width="9.3" height="31.6" rx="1.8"/>
<rect x="331.1" y="299.8" width="9.5" height="6.3" rx="2.6"/>
<path fill-rule="evenodd" d="M271.4,308.8 H281.2 C292.2,308.8 297.0,316 297.0,324.7 C297.0,333.4 292.2,340.6 281.2,340.6 H271.4 Q270.2,340.6 270.2,339.4 V310 Q270.2,308.8 271.4,308.8 Z M278.8,310.9 V338.5 H281.5 C287.59999999999997,338.5 290.59999999999997,332.4 290.59999999999997,324.7 C290.59999999999997,317 287.59999999999997,310.9 281.5,310.9 Z"/>
<path fill-rule="evenodd" d="M302.5,308.8 H312.3 C323.3,308.8 328.1,316 328.1,324.7 C328.1,333.4 323.3,340.6 312.3,340.6 H302.5 Q301.3,340.6 301.3,339.4 V310 Q301.3,308.8 302.5,308.8 Z M309.90000000000003,310.9 V338.5 H312.6 C318.7,338.5 321.7,332.4 321.7,324.7 C321.7,317 318.7,310.9 312.6,310.9 Z"/>
<path d="M363.85,313.78 C363.76,313.16 362.84,311.98 362.00,311.14 C361.16,310.30 360.15,309.33 358.83,308.76 C357.51,308.19 355.66,307.75 354.07,307.71 C352.48,307.67 350.72,307.93 349.31,308.50 C347.90,309.07 346.58,310.00 345.61,311.14 C344.64,312.28 343.90,313.96 343.50,315.37 C343.10,316.78 343.01,318.28 343.23,319.60 C343.45,320.92 343.98,322.24 344.82,323.30 C345.66,324.36 346.81,325.10 348.26,325.94 C349.71,326.78 352.04,327.53 353.54,328.32 C355.04,329.11 356.36,329.86 357.24,330.70 C358.12,331.54 358.70,332.46 358.83,333.34 C358.96,334.22 358.56,335.23 358.03,335.98 C357.50,336.73 356.59,337.43 355.66,337.83 C354.74,338.23 353.63,338.40 352.48,338.36 C351.33,338.32 349.84,338.01 348.78,337.57 C347.72,337.13 346.80,336.16 346.14,335.72 C345.48,335.28 345.22,334.84 344.82,334.93 C344.42,335.02 343.54,335.63 343.76,336.25 C343.98,336.87 345.13,337.93 346.14,338.63 C347.15,339.33 348.52,340.09 349.84,340.48 C351.16,340.88 352.48,341.09 354.07,341.00 C355.66,340.91 357.82,340.61 359.36,339.95 C360.90,339.29 362.31,338.23 363.32,337.04 C364.33,335.85 365.03,334.13 365.43,332.81 C365.83,331.49 365.92,330.34 365.70,329.11 C365.48,327.88 364.90,326.47 364.11,325.41 C363.32,324.35 362.35,323.65 360.94,322.77 C359.53,321.89 357.25,320.92 355.66,320.13 C354.08,319.34 352.44,318.71 351.43,318.01 C350.42,317.31 349.84,316.69 349.58,315.90 C349.31,315.11 349.44,314.05 349.84,313.26 C350.24,312.47 351.08,311.58 351.96,311.14 C352.84,310.70 354.07,310.52 355.13,310.61 C356.19,310.70 357.33,311.14 358.30,311.67 C359.27,312.20 360.24,313.25 360.94,313.78 C361.64,314.31 362.04,314.84 362.53,314.84 C363.01,314.84 363.94,314.40 363.85,313.78 Z"/>
</g>
<circle cx="368.60" cy="302.90" r="3.00" fill="#3c3c3c" stroke="#151515" stroke-width="0"/>
</g>
<text x="26.61" y="1132" font-size="43.5" style="fill:#000" textLength="241.46" lengthAdjust="spacingAndGlyphs">Совместима</text>
<text x="278.47" y="1132" font-size="43.5" style="fill:#000" textLength="51.33" lengthAdjust="spacingAndGlyphs">со</text>
<text x="338.33" y="1132" font-size="43.5" style="fill:#000" textLength="123.61" lengthAdjust="spacingAndGlyphs">всеми</text>
<text x="471.51" y="1132" font-size="43.5" style="fill:#000" textLength="229.22" lengthAdjust="spacingAndGlyphs">клавишами</text>
<text x="708.95" y="1132" font-size="43.5" style="fill:#000" textLength="120.33" lengthAdjust="spacingAndGlyphs">смыва</text>
<text x="843.13" y="1132" font-size="43.5" style="fill:#000" textLength="111.91" lengthAdjust="spacingAndGlyphs">IDDIS</text>
<circle cx="966.15" cy="1116.15" r="10.2" fill="none" stroke="#000" stroke-width="2.6"/>
<text x="966.4" y="1121.7" font-size="15.5" font-weight="bold" text-anchor="middle" style="fill:#000">R</text>
</svg>
</body></html>
